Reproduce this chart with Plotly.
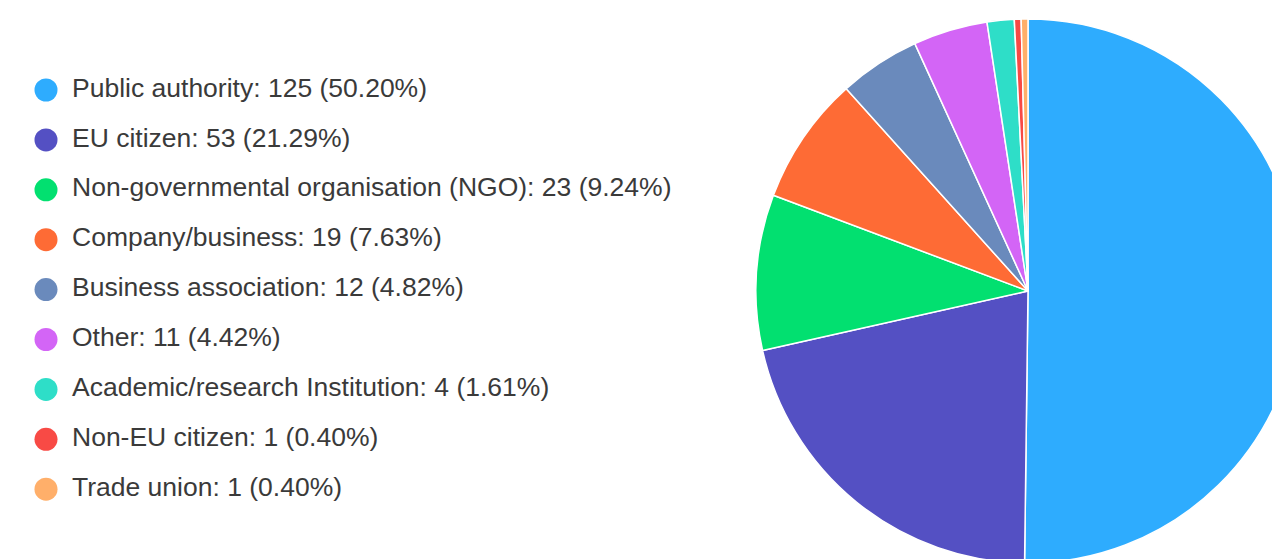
import plotly.graph_objects as go

categories = ["Public authority", "EU citizen", "Non-governmental organisation (NGO)",
              "Company/business", "Business association", "Other",
              "Academic/research Institution", "Non-EU citizen", "Trade union"]
counts = [125, 53, 23, 19, 12, 11, 4, 1, 1]
colors = ["#2EACFE", "#5450C3", "#02E070", "#FE6B35", "#6A8ABC", "#D365F6",
          "#2EDEC8", "#F84A45", "#FFAF6A"]

total = sum(counts)
labels = [f"{c}: {n} ({n / total * 100:.2f}%)" for c, n in zip(categories, counts)]

W, H = 1400, 640
cx, cy, r = 1028, 291, 272

fig = go.Figure()
fig.add_trace(go.Pie(
    labels=categories, values=counts, sort=False, direction="clockwise", rotation=0,
    marker=dict(colors=colors, line=dict(color="white", width=1.5)),
    textinfo="none", hoverinfo="label+value+percent", showlegend=False,
    domain=dict(x=[(cx - r) / W, (cx + r) / W], y=[1 - (cy + r) / H, 1 - (cy - r) / H]),
))

idx = list(range(len(categories)))
fig.add_trace(go.Scatter(
    x=[0] * len(idx), y=idx, mode="markers",
    marker=dict(size=23, color=colors, line=dict(width=0)),
    showlegend=False, hoverinfo="skip",
))
fig.add_trace(go.Scatter(
    x=[1] * len(idx), y=idx, mode="text", text=labels, textposition="middle right",
    textfont=dict(family="Liberation Sans, Arial, sans-serif", size=26.5, color="#3a3a3a"),
    showlegend=False, hoverinfo="skip",
))

step = 49.9
y0 = 90
x0, xstep = 46, 26
fig.update_layout(
    width=W, height=H, margin=dict(l=0, r=0, t=0, b=0),
    paper_bgcolor="white", plot_bgcolor="white",
    xaxis=dict(visible=False, domain=[0, 1], range=[-x0 / xstep, (W - x0) / xstep], fixedrange=True),
    yaxis=dict(visible=False, domain=[0, 1], range=[(H - y0) / step, -y0 / step], fixedrange=True),
)

fig.write_html("out.html", post_script="document.documentElement.style.overflow='hidden';document.body.style.overflow='hidden';document.body.style.margin='0';")
